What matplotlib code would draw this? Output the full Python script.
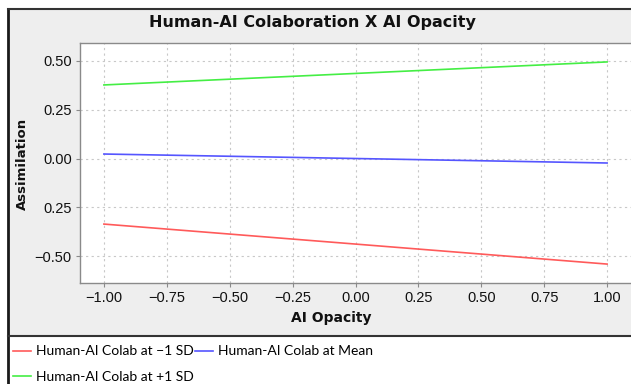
import matplotlib
matplotlib.use("Agg")
import matplotlib.pyplot as plt
from matplotlib.patches import Rectangle
from matplotlib.ticker import FixedLocator, FixedFormatter

# data
ai_opacity = [-1.0, 1.0]
colab_minus_sd = [-0.336, -0.541]
colab_mean = [0.023, -0.023]
colab_plus_sd = [0.377, 0.495]

x_ticks = [-1.0, -0.75, -0.5, -0.25, 0.0, 0.25, 0.5, 0.75, 1.0]
x_tick_labels = ["\u22121.00", "\u22120.75", "\u22120.50", "\u22120.25", "0.00",
                 "0.25", "0.50", "0.75", "1.00"]
y_ticks = [0.5, 0.25, 0.0, -0.25, -0.5]
y_tick_labels = ["0.50", "0.25", "0.00", "0.25", "\u22120.50"]

W, H = 631, 384


def fx(px):
    return px / W


def fy(py):
    return 1 - py / H


fig = plt.figure(figsize=(W / 100, H / 100), dpi=100, facecolor="white")

# grey panel with the dark frame
fig.patches.append(Rectangle((fx(8), fy(336)), 1 - fx(8), fy(9) - fy(336),
                             transform=fig.transFigure, facecolor="#eeeeee",
                             edgecolor="none", zorder=-5))
fig.add_artist(plt.Line2D([fx(8), fx(8)], [0, fy(9)], color="#1a1a1a", lw=2,
                          transform=fig.transFigure))
fig.add_artist(plt.Line2D([fx(8), 1], [fy(9), fy(9)], color="#333333", lw=1.5,
                          transform=fig.transFigure))
fig.add_artist(plt.Line2D([fx(8), 1], [fy(336), fy(336)], color="#333333", lw=1.5,
                          transform=fig.transFigure))

ax = fig.add_axes([fx(80), fy(283), fx(631) - fx(80), fy(43) - fy(283)])
ax.set_facecolor("white")

l_red, = ax.plot(ai_opacity, colab_minus_sd, color="#ff5a5a", lw=1.2)
l_blue, = ax.plot(ai_opacity, colab_mean, color="#5555ff", lw=1.2)
l_green, = ax.plot(ai_opacity, colab_plus_sd, color="#44ee44", lw=1.2)

ax.set_xlim(-1.095, 1.095)
ax.set_ylim(-0.638, 0.592)
ax.xaxis.set_major_locator(FixedLocator(x_ticks))
ax.xaxis.set_major_formatter(FixedFormatter(x_tick_labels))
ax.yaxis.set_major_locator(FixedLocator(y_ticks))
ax.yaxis.set_major_formatter(FixedFormatter(y_tick_labels))

ax.grid(True, color="#c8c8c8", linestyle=(0, (2, 3)), lw=0.8)
ax.set_axisbelow(True)
for side in ["left", "bottom", "top", "right"]:
    ax.spines[side].set_color("#8a8a8a")
    ax.spines[side].set_linewidth(1.0)
ax.spines["right"].set_visible(False)
ax.tick_params(colors="#8a8a8a", length=3, width=0.8, labelcolor="#111111",
               labelsize=10.5, pad=3)
for lab in ax.get_xticklabels() + ax.get_yticklabels():
    lab.set_fontfamily("Liberation Sans")

fig.text(fx(312), fy(22), "Human-AI Colaboration X AI Opacity", ha="center",
         va="center", fontsize=11.5, fontweight="bold", color="#111111")
fig.text(fx(331), fy(318), "AI Opacity", ha="center", va="center",
         fontsize=10, fontweight="bold", color="#111111")
fig.text(fx(22), fy(164), "Assimilation", ha="center", va="center",
         rotation=90, fontsize=9.5, fontweight="bold", color="#111111")

leg = fig.legend([l_red, l_green, l_blue],
                 ["Human-AI Colab at \u22121 SD", "Human-AI Colab at +1 SD",
                  "Human-AI Colab at Mean"],
                 ncol=2, loc="upper left", bbox_to_anchor=(fx(12), fy(344)),
                 frameon=False, prop={"family": "Lato", "size": 10},
                 handlelength=1.3, handletextpad=0.35, columnspacing=0.1,
                 labelspacing=0.95, borderaxespad=0, borderpad=0.1)

fig.savefig("out.png", dpi=100, facecolor="white")
